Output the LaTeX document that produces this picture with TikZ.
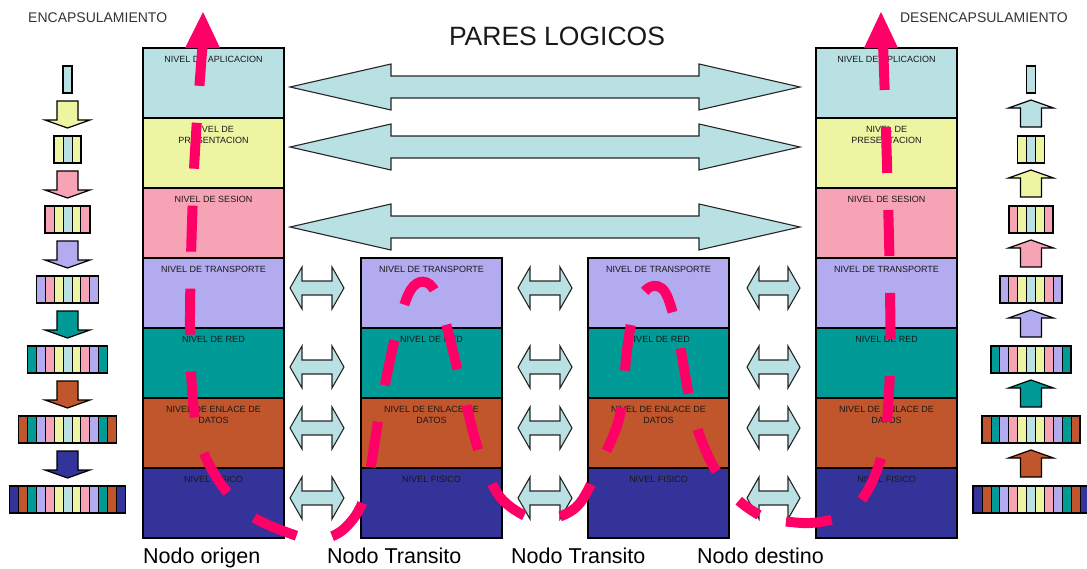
\documentclass[tikz,border=0pt]{standalone}
\usepackage{fontspec}
\setmainfont{Liberation Sans}
\definecolor{capp}{HTML}{B9E0E3}
\definecolor{cpre}{HTML}{EDF5A2}
\definecolor{cses}{HTML}{F7A3B6}
\definecolor{ctra}{HTML}{B3ABF0}
\definecolor{cred}{HTML}{009A97}
\definecolor{cenl}{HTML}{C1552B}
\definecolor{cfis}{HTML}{333399}
\definecolor{pinkpath}{HTML}{FF0066}
\colorlet{lvl0}{capp}
\colorlet{lvl1}{cpre}
\colorlet{lvl2}{cses}
\colorlet{lvl3}{ctra}
\colorlet{lvl4}{cred}
\colorlet{lvl5}{cenl}
\colorlet{lvl6}{cfis}
\newcommand\dblarrow[6]{\draw[arrowshape] (#1,#3) -- ({#1+#4},{#3-#5}) -- ({#1+#4},{#3-#6}) -- ({#2-#4},{#3-#6}) -- ({#2-#4},{#3-#5}) -- (#2,#3) -- ({#2-#4},{#3+#5}) -- ({#2-#4},{#3+#6}) -- ({#1+#4},{#3+#6}) -- ({#1+#4},{#3+#5}) -- cycle;}
\begin{document}
\begin{tikzpicture}[x=1pt,y=-1pt,
  layer/.style={draw=black, line width=1.6pt, minimum width=141pt, minimum height=70pt, inner sep=0pt, outer sep=0pt, anchor=north west},
  lbl/.style={font=\fontsize{9}{10.5}\selectfont, text=black!90, align=center, inner sep=0pt, anchor=north},
  arrowshape/.style={fill=capp, draw=black!85, line width=1.1pt, line join=miter},
  encarr/.style={draw=black, line width=1.2pt, line join=miter},
  cell/.style={draw=black, line width=0.9pt},
  rowbox/.style={draw=black, line width=1.6pt},
  small/.style={font=\fontsize{14}{16}\selectfont, text=black!80, inner sep=0pt},
  nodelbl/.style={font=\fontsize{21.5}{24}\selectfont, text=black, inner sep=0pt, anchor=base west},
  datapath/.style={pinkpath, line width=10pt, dash pattern=on 46pt off 37pt}]
\useasboundingbox (0,0) rectangle (1087,568);

% stacks
\foreach \i/\c/\t in {0/capp/{NIVEL DE APLICACION},1/cpre/{NIVEL DE\\PRESENTACION},2/cses/{NIVEL DE SESION},3/ctra/{NIVEL DE TRANSPORTE},4/cred/{NIVEL DE RED},5/cenl/{NIVEL DE ENLACE DE\\DATOS},6/cfis/{NIVEL FISICO}} {
  \node[layer, fill=\c] (o\i) at (143,{48+70*\i}) {};
  \node[lbl] (ol\i) at ([yshift=-8.5pt]o\i.north) {\t};
  \node[layer, fill=\c] (d\i) at (816,{48+70*\i}) {};
  \node[lbl] (dl\i) at ([yshift=-8.5pt]d\i.north) {\t};
}
\foreach \i/\c/\t in {3/ctra/{NIVEL DE TRANSPORTE},4/cred/{NIVEL DE RED},5/cenl/{NIVEL DE ENLACE DE\\DATOS},6/cfis/{NIVEL FISICO}} {
  \node[layer, fill=\c] (ta\i) at (361,{48+70*\i}) {};
  \node[lbl] (tal\i) at ([yshift=-8.5pt]ta\i.north) {\t};
  \node[layer, fill=\c] (tb\i) at (588,{48+70*\i}) {};
  \node[lbl] (tbl\i) at ([yshift=-8.5pt]tb\i.north) {\t};
}

% logical peer arrows
\dblarrow{290}{800}{87}{101}{23}{11}
\dblarrow{290}{800}{147}{101}{23}{11}
\dblarrow{290}{800}{227}{101}{23}{11}
\foreach \y in {288,367,428,498} {
  \dblarrow{290}{344}{\y}{12}{21}{7}
  \dblarrow{518}{572}{\y}{12}{21}{7}
  \dblarrow{747}{800}{\y}{12}{21}{7}
}

% encapsulation / decapsulation rows
\foreach \cx in {67.5,1031} {
  \foreach \k in {0,...,6} {
    \pgfmathtruncatemacro\nn{2*\k}
    \foreach \j in {0,...,\nn} {
      \pgfmathtruncatemacro\l{abs(\j-\k)}
      \draw[cell, fill=lvl\l] ({\cx+(\j-\k-0.5)*8.9},{66+70*\k}) rectangle ++(8.9,27);
    }
    \draw[rowbox] ({\cx-(\k+0.5)*8.9},{66+70*\k}) rectangle ({\cx+(\k+0.5)*8.9},{93+70*\k});
  }
}
\foreach \k in {0,...,5} {
  \pgfmathtruncatemacro\m{\k+1}
  \pgfmathsetmacro\yy{101+70*\k}
  \draw[encarr, fill=lvl\m] (57,\yy) -- (78,\yy) -- (78,\yy+19) -- (90,\yy+19) -- (67.5,\yy+27) -- (45,\yy+19) -- (57,\yy+19) -- cycle;
  \pgfmathsetmacro\yu{100+70*\k}
  \draw[encarr, fill=lvl\k] (1031,\yu) -- (1053.5,\yu+8) -- (1041.5,\yu+8) -- (1041.5,\yu+27) -- (1020.5,\yu+27) -- (1020.5,\yu+8) -- (1008.5,\yu+8) -- cycle;
}

% texts
\node[small, anchor=base west] (enc) at (28,22) {ENCAPSULAMIENTO};
\node[small, anchor=base east] (desenc) at (1068,22) {DESENCAPSULAMIENTO};
\node[font=\fontsize{26.5}{30}\selectfont, inner sep=0pt, text=black!90] (title) at (557,36) {PARES LOGICOS};
\node[nodelbl] (n1) at (143,563) {Nodo origen};
\node[nodelbl] (n2) at (327,563) {Nodo Transito};
\node[nodelbl] (n3) at (511,563) {Nodo Transito};
\node[nodelbl] (n4) at (697,563) {Nodo destino};

% data path
\draw[datapath] plot[smooth, tension=0.55] coordinates {
 (203,40) (194,170) (190,330) (196,425) (215,475) (250,515) (300,537) (320,540) (345,528) (365,495) (380,410) (395,338) (408,295) (420,282) (433,288) (445,320) (465,400) (480,455) (500,497) (530,518) (555,518) (580,503) (603,458) (620,415) (627,350) (635,307) (650,287) (665,292) (677,330) (692,410) (710,460) (735,497) (759,515)};
\draw[datapath] plot[smooth, tension=0.55] coordinates {
 (883,44) (885,100) (888,200) (890,290) (890,370) (884,445) (868,490) (845,515) (810,523) (775,520)};
\fill[pinkpath] (185,48) -- (203,12) -- (220,48) -- cycle;
\fill[pinkpath] (864,48) -- (881,12) -- (898,48) -- cycle;
\end{tikzpicture}
\end{document}
